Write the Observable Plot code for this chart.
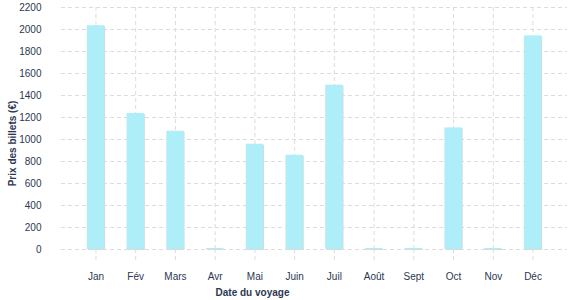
<!DOCTYPE html>
<html><head><meta charset="utf-8">
<script src="https://cdn.jsdelivr.net/npm/d3@7"></script>
<script src="https://cdn.jsdelivr.net/npm/@observablehq/plot@0.6"></script>
<style>
body{margin:0;background:#fff;}
#chart svg{font-family:"Liberation Sans",Arial,sans-serif;}
</style>
</head><body><div id="chart"></div>
<script>
const months = ["Jan","Fév","Mars","Avr","Mai","Juin","Juil","Août","Sept","Oct","Nov","Déc"];
const prices = [2035,1236,1075,10,957,857,1494,10,10,1106,10,1942];
const yTicks = [0,200,400,600,800,1000,1200,1400,1600,1800,2000,2200];
const xLabel = "Date du voyage";
const yLabel = "Prix des billets (€)";

const data = months.map((m,i)=>({month:m, price:prices[i]}));
const textColor = "#2b3752";
const gridColor = "#dcdcdc";

const chart = Plot.plot({
  width: 577, height: 300,
  marginLeft: 61, marginRight: 10, marginTop: 7, marginBottom: 51,
  style: {fontSize: "10px", color: textColor, background: "#fff"},
  x: {domain: months, paddingInner: 0.565, paddingOuter: 0.65, round: false, label: null},
  y: {domain: [0,2200], label: null},
  marks: [
    Plot.gridY(yTicks, {stroke: gridColor, strokeOpacity: 1, strokeDasharray: "4,3"}),
    Plot.gridX({stroke: gridColor, strokeOpacity: 1, strokeDasharray: "4,3"}),
    Plot.axisX({text: null, tickSize: 13, stroke: gridColor, strokeOpacity: 1, strokeDasharray: "4,3"}),
    Plot.axisX({tickSize: 0, tickPadding: 23, fill: textColor, label: null}),
    Plot.axisY({ticks: yTicks, tickFormat: d => String(d), tickSize: 0, tickPadding: 20, fill: textColor, label: null}),
    Plot.barY(data, {x: "month", y: "price", fill: "#d9d9d9", dx: 1, dy: 1}),
    Plot.barY(data, {x: "month", y: "price", fill: "#aeeef8"}),
    Plot.text([yLabel], {text: d=>d, frameAnchor: "left", textAnchor: "middle", lineAnchor: "middle", dx: -49, dy: 15, rotate: -90, fontWeight: "bold", fontSize: 10, fill: textColor}),
    Plot.text([xLabel], {text: d=>d, frameAnchor: "bottom", textAnchor: "middle", lineAnchor: "middle", dx: -62, dy: 43, fontWeight: "bold", fontSize: 10, fill: textColor})
  ]
});
document.getElementById("chart").appendChild(chart);
</script>
</body></html>
